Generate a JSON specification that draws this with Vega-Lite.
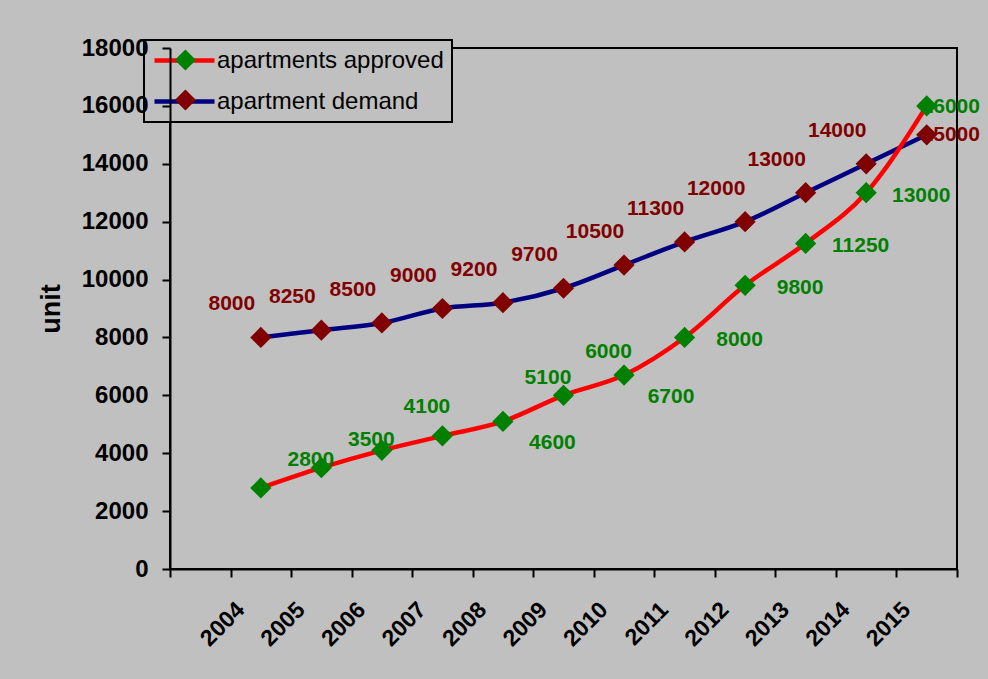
{
  "$schema": "https://vega.github.io/schema/vega-lite/v6.json",
  "width": 787,
  "height": 521,
  "autosize": {"type": "none"},
  "padding": {"left": 170, "top": 48, "right": 31, "bottom": 110},
  "background": "#c0c0c0",
  "config": {
    "view": {"stroke": "black", "strokeWidth": 2, "fill": "#c0c0c0"},
    "font": "Liberation Sans",
    "axis": {
      "domainColor": "black", "domainWidth": 2,
      "tickColor": "black", "tickWidth": 2, "tickSize": 8,
      "labelColor": "black", "labelFont": "Liberation Sans", "labelFontWeight": "bold",
      "grid": false, "titleColor": "black", "titleFont": "Liberation Sans"
    },
    "legend": {"strokeWidth": 2}
  },
  "data": {
    "values": [
      {"year": 2004, "series": "apartment demand", "value": 8000},
      {"year": 2005, "series": "apartment demand", "value": 8250},
      {"year": 2006, "series": "apartment demand", "value": 8500},
      {"year": 2007, "series": "apartment demand", "value": 9000},
      {"year": 2008, "series": "apartment demand", "value": 9200},
      {"year": 2009, "series": "apartment demand", "value": 9700},
      {"year": 2010, "series": "apartment demand", "value": 10500},
      {"year": 2011, "series": "apartment demand", "value": 11300},
      {"year": 2012, "series": "apartment demand", "value": 12000},
      {"year": 2013, "series": "apartment demand", "value": 13000},
      {"year": 2014, "series": "apartment demand", "value": 14000},
      {"year": 2015, "series": "apartment demand", "value": 15000},
      {"year": 2004, "series": "apartments approved", "value": 2800},
      {"year": 2005, "series": "apartments approved", "value": 3500},
      {"year": 2006, "series": "apartments approved", "value": 4100},
      {"year": 2007, "series": "apartments approved", "value": 4600},
      {"year": 2008, "series": "apartments approved", "value": 5100},
      {"year": 2009, "series": "apartments approved", "value": 6000},
      {"year": 2010, "series": "apartments approved", "value": 6700},
      {"year": 2011, "series": "apartments approved", "value": 8000},
      {"year": 2012, "series": "apartments approved", "value": 9800},
      {"year": 2013, "series": "apartments approved", "value": 11250},
      {"year": 2014, "series": "apartments approved", "value": 13000},
      {"year": 2015, "series": "apartments approved", "value": 16000}
    ]
  },
  "layer": [
    {
      "mark": {"type": "line", "strokeWidth": 4.5, "interpolate": "monotone"},
      "encoding": {
        "x": {
          "field": "year", "type": "quantitative",
          "scale": {"domain": [2002.5, 2015.5], "nice": false, "zero": false},
          "axis": {
            "title": null,
            "values": [2002.5, 2003.5, 2004.5, 2005.5, 2006.5, 2007.5, 2008.5, 2009.5, 2010.5, 2011.5, 2012.5, 2013.5, 2014.5, 2015.5],
            "labelExpr": "datum.value > 2003 && datum.value < 2015 ? toString(datum.value + 0.5) : ''",
            "labelAngle": -45, "labelAlign": "right", "labelBaseline": "top",
            "labelOffset": 2, "labelPadding": 21, "labelFontSize": 23,
            "labelFlush": false, "labelOverlap": false, "zindex": 3
          }
        },
        "y": {
          "field": "value", "type": "quantitative",
          "scale": {"domain": [0, 18000], "nice": false},
          "axis": {
            "title": "unit", "titleFontSize": 27, "titleFontWeight": "bold", "titlePadding": 16,
            "values": [0, 2000, 4000, 6000, 8000, 10000, 12000, 14000, 16000, 18000],
            "format": "d", "labelFontSize": 24, "labelPadding": 14, "zindex": 3
          }
        },
        "stroke": {
          "field": "series", "type": "nominal",
          "scale": {"domain": ["apartments approved", "apartment demand"], "range": ["#ff0000", "#000080"]},
          "legend": {
            "orient": "none", "legendX": -26, "legendY": -8, "title": null,
            "symbolType": "M-1,0L5,0", "symbolSize": 400, "symbolStrokeWidth": 4.5,
            "labelFont": "Liberation Sans", "labelFontSize": 24, "labelColor": "black", "labelLimit": 500,
            "labelOffset": 40, "padding": 8, "rowPadding": 16,
            "strokeColor": "black", "fillColor": "#c0c0c0", "zindex": 1
          }
        }
      }
    },
    {
      "transform": [{"filter": "datum.series === 'apartment demand' && datum.year < 2015"}],
      "mark": {"type": "text", "font": "Liberation Sans", "fontSize": 21, "fontWeight": "bold", "color": "#800000", "dx": -29, "dy": -33},
      "encoding": {
        "x": {"field": "year", "type": "quantitative"},
        "y": {"field": "value", "type": "quantitative"},
        "text": {"field": "value", "type": "quantitative", "format": "d"}
      }
    },
    {
      "transform": [{"filter": "datum.series === 'apartment demand' && datum.year == 2015"}],
      "mark": {"type": "text", "font": "Liberation Sans", "fontSize": 21, "fontWeight": "bold", "color": "#800000", "dx": 24, "dy": 0},
      "encoding": {
        "x": {"field": "year", "type": "quantitative"},
        "y": {"field": "value", "type": "quantitative"},
        "text": {"field": "value", "type": "quantitative", "format": "d"}
      }
    },
    {
      "transform": [{"filter": "datum.series === 'apartments approved' && datum.year == 2015"}],
      "mark": {"type": "text", "font": "Liberation Sans", "fontSize": 21, "fontWeight": "bold", "color": "#008000", "dx": 24, "dy": 1},
      "encoding": {
        "x": {"field": "year", "type": "quantitative"},
        "y": {"field": "value", "type": "quantitative"},
        "text": {"field": "value", "type": "quantitative", "format": "d"}
      }
    },
    {
      "transform": [{"filter": "datum.series === 'apartments approved' && (datum.year == 2004 || datum.year == 2005)"}],
      "mark": {"type": "text", "font": "Liberation Sans", "fontSize": 21, "fontWeight": "bold", "color": "#008000", "dx": 50, "dy": -28},
      "encoding": {
        "x": {"field": "year", "type": "quantitative"},
        "y": {"field": "value", "type": "quantitative"},
        "text": {"field": "value", "type": "quantitative", "format": "d"}
      }
    },
    {
      "transform": [{"filter": "datum.series === 'apartments approved' && (datum.year == 2006 || datum.year == 2008 || datum.year == 2009)"}],
      "mark": {"type": "text", "font": "Liberation Sans", "fontSize": 21, "fontWeight": "bold", "color": "#008000", "dx": 45, "dy": -43},
      "encoding": {
        "x": {"field": "year", "type": "quantitative"},
        "y": {"field": "value", "type": "quantitative"},
        "text": {"field": "value", "type": "quantitative", "format": "d"}
      }
    },
    {
      "transform": [{"filter": "datum.series === 'apartments approved' && datum.year == 2007"}],
      "mark": {"type": "text", "font": "Liberation Sans", "fontSize": 21, "fontWeight": "bold", "color": "#008000", "dx": 110, "dy": 7},
      "encoding": {
        "x": {"field": "year", "type": "quantitative"},
        "y": {"field": "value", "type": "quantitative"},
        "text": {"field": "value", "type": "quantitative", "format": "d"}
      }
    },
    {
      "transform": [{"filter": "datum.series === 'apartments approved' && datum.year == 2010"}],
      "mark": {"type": "text", "font": "Liberation Sans", "fontSize": 21, "fontWeight": "bold", "color": "#008000", "dx": 47, "dy": 22},
      "encoding": {
        "x": {"field": "year", "type": "quantitative"},
        "y": {"field": "value", "type": "quantitative"},
        "text": {"field": "value", "type": "quantitative", "format": "d"}
      }
    },
    {
      "transform": [{"filter": "datum.series === 'apartments approved' && datum.year >= 2011 && datum.year <= 2014"}],
      "mark": {"type": "text", "font": "Liberation Sans", "fontSize": 21, "fontWeight": "bold", "color": "#008000", "dx": 55, "dy": 3},
      "encoding": {
        "x": {"field": "year", "type": "quantitative"},
        "y": {"field": "value", "type": "quantitative"},
        "text": {"field": "value", "type": "quantitative", "format": "d"}
      }
    },
    {
      "mark": {"type": "point", "shape": "diamond", "filled": true, "size": 450, "opacity": 1, "strokeWidth": 0},
      "encoding": {
        "x": {"field": "year", "type": "quantitative"},
        "y": {"field": "value", "type": "quantitative"},
        "fill": {
          "field": "series", "type": "nominal", "sort": "descending",
          "scale": {"range": ["#008000", "#800000"]},
          "legend": {
            "orient": "none", "legendX": -4.6, "legendY": -8, "title": null,
            "symbolType": "diamond", "symbolSize": 450, "symbolStrokeWidth": 0, "symbolOpacity": 1,
            "labelFont": "Liberation Sans", "labelFontSize": 24, "labelExpr": "''", "labelLimit": 500,
            "padding": 8, "rowPadding": 16, "zindex": 2
          }
        }
      }
    }
  ]
}
